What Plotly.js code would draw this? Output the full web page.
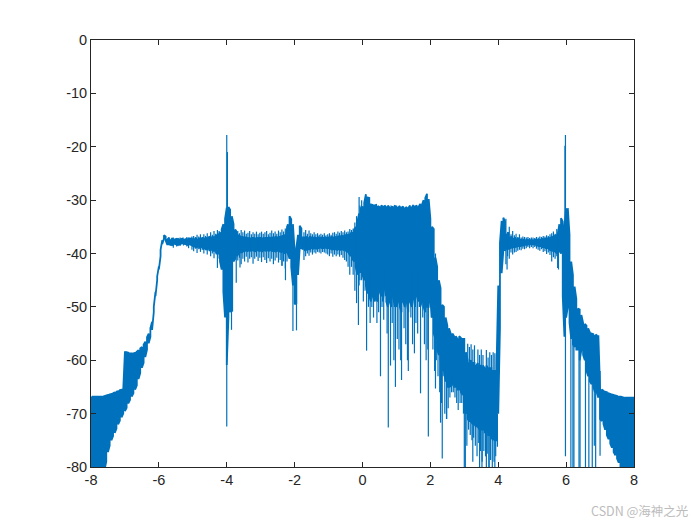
<!DOCTYPE html>
<html>
<head>
<meta charset="utf-8">
<script src="https://cdn.plot.ly/plotly-3.0.1.min.js"></script>
<style>html,body{margin:0;padding:0;background:#fff}#chart{width:700px;height:525px}</style>
</head>
<body>
<div id="chart"></div>
<script>
// The solid core of the trace, one upper / lower reading every 0.05 from -8 to 8.
const firstFreq = -8;
const freqStep = 0.05;
const upperDb = [
-66.8,-66.8,-66.8,-66.8,-66.8,-66.8,-66.8,-66.8,-66.7,-66.6,-66.5,-66.4,-66.3,-66.2,-66.0,-65.9,-65.8,-65.6,-65.5,-65.4,
-58.3,-58.5,-58.6,-58.7,-58.7,-58.7,-58.6,-58.4,-58.1,-57.8,-57.5,-57.1,-56.5,-55.7,-55.0,-54.0,-52.8,-50.0,-47.2,-44.3,
-42.4,-39.3,-37.5,-36.6,-36.8,-37.4,-37.0,-37.5,-37.1,-37.4,-37.3,-37.2,-37.4,-37.3,-37.2,-37.4,-37.3,-37.3,-37.2,-37.1,
-37.4,-37.3,-37.2,-37.4,-37.1,-37.3,-37.0,-37.2,-37.0,-37.1,-36.8,-37.0,-36.8,-36.9,-36.5,-36.6,-36.0,-35.5,-34.5,-33.5,
-31.4,-31.3,-31.8,-33.0,-34.5,-35.5,-36.0,-36.5,-36.8,-36.8,-37.0,-37.0,-37.1,-37.0,-37.2,-37.1,-37.1,-37.2,-37.0,-37.1,
-37.1,-37.2,-37.0,-37.1,-37.1,-37.0,-37.1,-37.0,-37.0,-36.9,-37.0,-36.9,-36.8,-36.7,-36.6,-36.2,-34.5,-33.0,-33.6,-34.5,
-39.5,-39.0,-36.5,-34.8,-35.3,-37.0,-37.0,-36.8,-37.1,-36.9,-37.0,-37.1,-36.9,-37.1,-37.0,-37.1,-37.0,-37.1,-37.0,-37.1,
-37.0,-37.0,-36.9,-37.0,-36.8,-36.9,-36.7,-36.8,-36.6,-36.7,-36.5,-36.6,-36.4,-36.2,-36.0,-35.6,-35.0,-34.0,-32.5,-31.5,
-31.2,-30.5,-28.9,-29.5,-29.6,-30.8,-30.9,-31.0,-30.9,-31.1,-31.3,-31.0,-31.2,-31.0,-31.3,-31.0,-31.4,-31.2,-31.3,-31.1,
-31.2,-31.4,-31.1,-31.4,-31.2,-31.5,-31.3,-31.5,-31.0,-31.4,-30.9,-31.2,-31.0,-31.3,-30.7,-30.9,-30.0,-29.6,-28.8,-29.8,
-33.5,-35.0,-35.4,-40.8,-42.5,-45.0,-46.5,-49.6,-50.0,-52.0,-53.5,-54.0,-55.0,-55.0,-55.5,-55.5,-56.0,-55.5,-55.8,-56.0,
-56.0,-58.5,-60.0,-60.5,-60.0,-60.5,-60.5,-61.0,-60.5,-61.0,-61.0,-61.0,-61.5,-61.0,-61.5,-61.5,-61.5,-62.0,-62.0,-61.0,
-46.0,-38.0,-33.9,-33.3,-34.0,-36.5,-36.0,-37.0,-36.8,-37.2,-37.1,-37.3,-37.2,-37.4,-37.4,-37.4,-37.5,-37.4,-37.5,-37.5,
-37.5,-37.5,-37.4,-37.5,-37.3,-37.4,-37.3,-37.3,-37.2,-37.2,-37.0,-37.0,-36.8,-36.8,-36.5,-36.5,-34.5,-33.4,-34.0,-35.0,
-31.5,-31.5,-36.5,-41.5,-44.0,-46.2,-48.5,-50.3,-50.5,-51.5,-53.0,-53.2,-53.5,-54.0,-54.8,-55.0,-55.1,-55.4,-55.2,-55.3,
-65.3,-65.5,-65.7,-65.9,-66.0,-66.2,-66.3,-66.4,-66.5,-66.6,-66.7,-66.8,-66.8,-66.9,-67.0,-67.0,-67.0,-67.0,-67.0,-67.0,
-67.0
];
const lowerDb = [
-86,-86,-86,-86,-86,-86,-86,-86,-80.5,-79.0,-77.2,-76.0,-75.0,-74.2,-73.6,-72.8,-72.0,-71.3,-70.7,-70.0,
-69.5,-68.9,-68.1,-67.4,-66.8,-66.2,-65.5,-64.7,-63.5,-62.4,-61.4,-60.5,-59.4,-58.0,-56.8,-55.6,-54.3,-51.0,-48.0,-45.0,
-43.0,-40.5,-38.2,-37.2,-37.6,-38.4,-38.3,-38.4,-38.5,-38.2,-38.3,-38.4,-38.3,-38.2,-38.1,-38.3,-38.3,-38.4,-38.3,-38.4,
-38.6,-38.8,-38.9,-38.7,-39.0,-38.8,-39.2,-39.0,-39.3,-39.1,-39.4,-39.3,-39.5,-39.5,-40.0,-40.0,-41.5,-43.0,-47.2,-52.0,
-60.9,-52.0,-51.0,-44.0,-41.5,-41.0,-40.5,-40.0,-39.8,-39.8,-39.6,-39.5,-39.6,-39.4,-39.5,-39.4,-39.5,-39.6,-39.4,-39.5,
-39.5,-39.6,-39.4,-39.5,-39.4,-39.6,-39.4,-39.6,-39.5,-39.7,-39.5,-39.7,-39.8,-39.6,-40.0,-39.8,-40.0,-41.0,-42.5,-46.0,
-49.5,-49.3,-44.0,-39.0,-39.0,-39.2,-39.5,-39.3,-39.2,-39.2,-39.0,-39.2,-39.0,-39.1,-39.0,-38.9,-39.0,-39.0,-38.9,-39.0,
-39.0,-39.1,-39.2,-39.2,-39.2,-39.3,-39.2,-39.3,-39.2,-39.4,-39.4,-39.8,-40.0,-40.5,-41.0,-41.5,-42.5,-44.0,-43.5,-43.5,
-44.0,-45.0,-46.0,-47.5,-48.0,-49.0,-48.0,-49.0,-48.5,-49.0,-47.0,-48.0,-49.0,-46.0,-49.0,-50.0,-49.0,-50.0,-48.0,-50.0,
-50.0,-49.0,-50.0,-51.0,-49.0,-50.0,-49.0,-51.0,-49.0,-50.0,-48.0,-50.0,-48.0,-49.0,-50.0,-49.0,-50.0,-51.0,-50.0,-50.0,
-49.0,-52.0,-55.0,-56.0,-58.0,-59.0,-60.0,-62.0,-62.0,-64.0,-65.0,-65.0,-65.0,-64.5,-65.0,-65.0,-65.5,-65.5,-66.0,-66.5,
-69.5,-70.0,-71.0,-71.5,-71.5,-72.0,-72.0,-72.5,-72.5,-73.0,-73.0,-73.0,-73.5,-73.5,-74.0,-74.0,-74.5,-75.0,-75.0,-75.0,
-70.0,-54.0,-43.7,-39.5,-39.5,-39.0,-39.2,-39.0,-39.0,-38.8,-38.8,-38.7,-38.6,-38.6,-38.5,-38.5,-38.4,-38.4,-38.3,-38.3,
-38.3,-38.3,-38.4,-38.5,-38.6,-38.6,-38.8,-38.8,-39.0,-39.0,-39.2,-39.5,-39.5,-39.6,-39.8,-40.0,-39.5,-40.0,-48.0,-55.6,
-52.0,-50.0,-53.0,-56.0,-57.0,-57.5,-58.0,-58.0,-60.0,-58.0,-59.0,-60.0,-62.0,-63.0,-64.0,-64.5,-65.0,-66.0,-66.0,-67.0,
-71.0,-71.4,-71.9,-73.0,-74.0,-74.8,-75.6,-76.4,-77.2,-77.8,-78.4,-79.2,-80.0,-81.0,-82.0,-83.0,-84.0,-85.0,-86.0,-86.0,
-86.0
];
// Thin excursions that stand out of the core: frequency, top of the stroke, bottom of the stroke.
const spikeFreq = [
-4.0,-3.98,-3.9,-3.86,-3.83,-3.72,-3.61,-2.37,-2.27,-2.05,-1.945,-0.12,0.12,0.53,0.76,0.97,1.15,1.35,1.53,1.71,1.94,2.15,2.3,2.35,2.48,2.82,
3.0,3.03,3.25,3.45,3.52,3.65,3.73,3.9,4.26,5.75,5.965,5.98,6.14,6.2,6.23,6.38,6.41,6.57,6.67,6.77,6.83,6.87,7.0,
-5.575,-5.475,-5.375,-5.275,-5.175,-5.125,-5.025,-4.975,-4.925,-4.875,-4.825,-4.775,-4.725,-4.675,-4.625,-4.575,-4.525,-4.475,-4.425,-4.375,-4.325,-4.275,-4.225,
-3.675,-3.625,-3.575,-3.525,-3.475,-3.425,-3.375,-3.325,-3.275,-3.225,-3.175,-3.125,-3.075,-3.025,-2.975,-2.925,-2.875,-2.825,-2.775,-2.725,-2.675,-2.625,-2.575,-2.525,-2.475,-2.425,-2.375,-2.325,-2.275,-2.225,
-1.725,-1.675,-1.625,-1.575,-1.525,-1.475,-1.425,-1.375,-1.325,-1.275,-1.225,-1.175,-1.125,-1.075,-1.025,-0.975,-0.925,-0.875,-0.825,-0.775,-0.725,-0.675,-0.625,-0.575,-0.525,-0.475,-0.425,-0.375,-0.325,-0.275,
-0.225,-0.175,-0.1,-0.075,-0.025,
0.025,0.075,0.175,0.225,0.275,0.325,0.375,0.425,0.475,0.575,0.625,0.675,0.725,0.825,0.875,0.925,1.025,1.075,1.125,1.225,1.275,1.325,1.425,1.475,1.575,1.625,1.675,1.775,1.825,1.875,1.925,
2.025,2.075,2.125,2.175,2.225,2.275,2.325,2.375,2.425,2.475,2.525,2.575,2.625,2.675,2.725,2.775,2.875,2.925,2.975,
3.1,3.15,3.2,3.25,3.3,3.4,3.45,3.5,3.55,3.65,3.7,3.75,3.8,3.85,3.9,3.95,
3.075,3.125,3.175,3.225,3.275,3.325,3.375,3.425,3.475,3.525,3.575,3.625,3.675,3.725,3.775,3.825,3.875,3.925,3.975,
4.225,4.275,4.325,4.375,4.425,4.475,4.525,4.575,4.625,4.675,4.725,4.775,4.825,4.875,4.925,4.975,5.025,5.075,5.125,5.175,5.225,5.275,5.325,5.375,5.425,5.475,5.525,5.575,5.625,5.675,5.725,5.775
];
const spikeTop = [
-17.8,-21,-36,-36,-36,-37,-37,-38,-38,-42,-42,-40,-40,-40,-40,-40,-40,-40,-40,-40,-40,-40,-50,-50,-55,-60,
-62,-62,-62,-62,-62,-62,-62,-62,-38,-38,-19.8,-17.8,-50,-56,-56,-56,-56,-58,-58,-58,-58,-58,-62,
-37,-37.1,-37,-37.2,-36.9,-37,-36.8,-36.7,-36.9,-36.5,-36.8,-36.4,-36.9,-36.4,-36.7,-36.2,-36.8,-36,-36.5,-35.8,-36.3,-35.6,-35.8,
-35.8,-36.2,-35.6,-36,-35.7,-36.3,-36.1,-35.8,-36.4,-36,-36.3,-35.9,-36.4,-36.1,-35.9,-36.3,-36,-35.8,-36.4,-36.1,-35.7,-36.2,-35.9,-36.3,-35.7,-36,-35.5,-35.9,-35.3,-34.8,
-36,-35.6,-36.3,-35.7,-36.2,-36.4,-36,-36.4,-36.2,-36.5,-36.3,-36.5,-36.2,-36.6,-36.4,-36.2,-36.5,-36.1,-36,-36.3,-35.9,-36.1,-35.8,-36,-35.7,-36,-35.9,-35.4,-35.6,-35.3,
-34.2,-33,-29.4,-31,-30,
-43,-43,-43,-43,-43,-43,-43,-43,-43,-43,-43,-43,-43,-43,-43,-43,-43,-43,-43,-43,-43,-43,-43,-43,-43,-43,-43,-43,-43,-43,-43,
-46,-50,-52,-54,-55,-56,-58,-58,-60,-60,-62,-62,-62,-62,-62,-63,-63,-63,-64,
-56.9,-57.5,-57,-58,-57.2,-58,-59,-58,-59,-58.1,-59.5,-58.5,-59,-58.5,-58.7,-59,
-70,-70,-70,-70,-70,-70,-70,-70,-70,-70,-70,-70,-70,-70,-70,-70,-70,-70,-70,
-33.5,-36,-35,-36.4,-35.8,-36.6,-36.3,-36.9,-36.4,-37,-36.8,-36.9,-37,-36.9,-37.1,-37,-37,-37.1,-36.9,-37,-36.8,-36.9,-36.7,-36.8,-36.6,-36.7,-36.4,-36.2,-35.9,-36.3,-35.4,-35.8
];
const spikeLow = [
-72.4,-36,-51,-54.3,-50.9,-45.5,-42.6,-42.3,-45,-54.5,-54.4,-53.4,-58.2,-63,-72.6,-65,-63.7,-62,-58.7,-66.2,-74.3,-65.3,-71.7,-78.4,-71,-69.3,
-84,-84,-79,-84,-84,-84,-84,-84,-43,-42.7,-34,-78,-84,-84,-84,-84,-84,-84,-84,-84,-76,-84,-77.9,
-38.9,-38.7,-38.6,-38.5,-38.7,-39,-39.3,-39.6,-39.1,-39.9,-39.2,-39.7,-39.3,-40,-39.4,-40.2,-39.5,-40.5,-40,-40.9,-40,-42.7,-41,
-41.3,-40.8,-42,-41,-41.5,-40.6,-41.7,-41,-40.7,-41.9,-41,-40.6,-41.4,-40.8,-41.6,-40.7,-41.2,-41.8,-40.9,-41.5,-41,-42,-41.3,-40.8,-41.7,-41.2,-42.3,-41.5,-42.8,-41.5,
-41.2,-40.5,-40,-40.4,-39.8,-40.2,-39.8,-40,-39.7,-39.8,-40,-39.7,-39.8,-40,-40.2,-40.5,-40,-40.6,-40.2,-40.5,-40.2,-40.6,-40.3,-40.8,-41.2,-41.5,-42.5,-44,-42.5,-44,
-47,-49.3,-46,-45,-45,
-49,-47,-50,-53,-50,-52,-49,-53,-51,-50,-52.4,-48,-55,-61,-53,-60,-56,-58,-60,-54,-57,-60,-52,-57,-53,-55,-50,-52,-57,-60,-58,
-52,-58,-62,-60,-63,-66,-68,-63,-70,-71,-69,-67,-66,-66,-67,-68,-68,-68,-70,
-62,-62,-62,-62,-62,-62,-62,-62,-62,-62,-62,-62,-62,-62,-62,-62,
-76,-73,-74,-75,-74.5,-76,-78,-75.5,-77,-79,-77,-78,-77.5,-80,-78.7,-80,-79,-78,-76.2,
-42,-40.5,-41,-39.8,-40.2,-39.8,-39.7,-39.5,-39.3,-39.4,-39.1,-39.2,-39,-38.8,-39,-38.8,-39,-38.8,-39.1,-39.3,-39.5,-39.2,-39.7,-39.6,-40.1,-39.8,-40.3,-41.5,-40.7,-41,-40.5,-43
];
const xTicks = [-8,-6,-4,-2,0,2,4,6,8];
const xTickText = ['-8','-6','-4','-2','0','2','4','6','8'];
const yTicks = [0,-10,-20,-30,-40,-50,-60,-70,-80];
const yTickText = ['0','-10','-20','-30','-40','-50','-60','-70','-80'];
const watermark = 'CSDN @海神之光';

const lineColor = '#0072BD';
const inkColor = '#262626';

// Core band: walk up and down the columns so every column is a vertical stroke.
const bandX = [], bandY = [];
upperDb.forEach((up, i) => {
  const f = firstFreq + i * freqStep;
  const pair = i % 2 ? [lowerDb[i], up] : [up, lowerDb[i]];
  bandX.push(f, f);
  bandY.push(pair[0], pair[1]);
});
const spikeX = [], spikeY = [];
spikeFreq.forEach((f, i) => {
  spikeX.push(f, f, null);
  spikeY.push(spikeTop[i], spikeLow[i], null);
});

const axisBase = {
  showgrid: false, zeroline: false, showline: true, linecolor: inkColor, linewidth: 1,
  mirror: 'allticks', ticks: 'inside', ticklen: 5, tickwidth: 1, tickcolor: inkColor,
  tickmode: 'array', tickfont: {family: '"Liberation Sans", Arial, sans-serif', size: 14.5, color: inkColor}
};

Plotly.newPlot('chart', [
  {type: 'scatter', mode: 'lines', x: bandX, y: bandY, line: {color: lineColor, width: 1.8}, hoverinfo: 'skip', showlegend: false},
  {type: 'scatter', mode: 'lines', x: spikeX, y: spikeY, line: {color: lineColor, width: 1.2}, connectgaps: false, hoverinfo: 'skip', showlegend: false}
], {
  width: 700, height: 525,
  margin: {l: 91, r: 66, t: 40, b: 58, pad: 0},
  paper_bgcolor: '#fff', plot_bgcolor: '#fff',
  showlegend: false,
  xaxis: Object.assign({}, axisBase, {range: [-8, 8], tickvals: xTicks, ticktext: xTickText}),
  yaxis: Object.assign({}, axisBase, {range: [-80, 0], tickvals: yTicks, ticktext: yTickText}),
  annotations: [{
    text: watermark, xref: 'paper', yref: 'paper', x: 1.103, y: -0.103,
    xanchor: 'right', yanchor: 'middle', showarrow: false,
    font: {family: '"Noto Sans CJK SC", "Noto Sans", sans-serif', size: 12.5, color: '#bcbcbc'}
  }]
}, {displayModeBar: false, staticPlot: true});
</script>
</body>
</html>
